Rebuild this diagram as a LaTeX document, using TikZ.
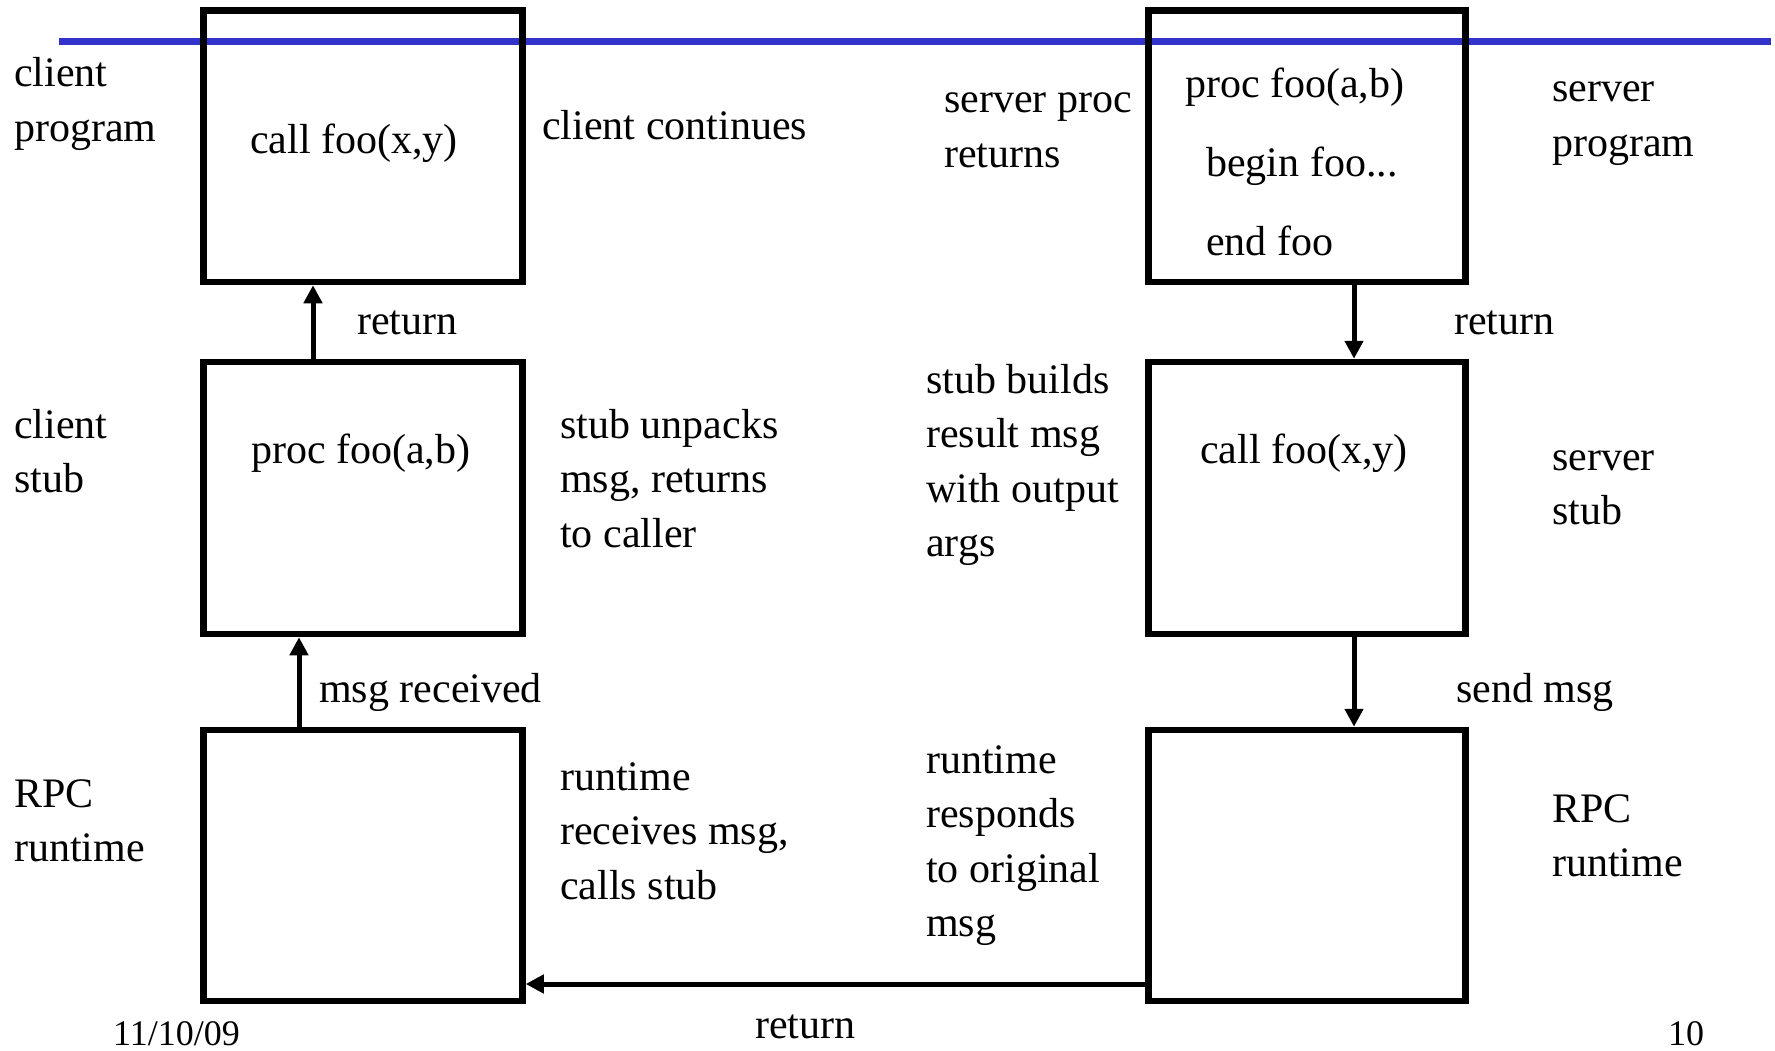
\documentclass[tikz,border=0pt]{standalone}
\usepackage{fontspec}
\setmainfont{Liberation Serif}
\usetikzlibrary{arrows.meta}
\newcommand\mlines[1]{\begin{tabular}[t]{@{}l@{}}#1\end{tabular}}
\begin{document}
\begin{tikzpicture}[x=1pt,y=-1pt,
  bx/.style={draw, line width=6.5pt, rectangle, inner sep=0pt},
  arr/.style={line width=5pt, -{Triangle[length=18pt,width=18pt]}},
  txt/.style={anchor=base west, inner sep=0pt, font=\fontsize{42}{54.5}\selectfont},
  foot/.style={anchor=base west, inner sep=0pt, font=\fontsize{36}{40}\selectfont}]
\useasboundingbox (0,0) rectangle (1775,1051);
% blue rule
\coordinate (bl) at (59,42);
\coordinate (br) at (1771,42);
\draw[line width=7pt, color={rgb,255:red,51;green,51;blue,204}] (bl) -- (br);
% boxes
\node[bx, minimum width=319pt, minimum height=271.5pt] (lb1) at (363,146.25) {};
\node[bx, minimum width=319pt, minimum height=272pt] (lb2) at (363,498) {};
\node[bx, minimum width=319pt, minimum height=271pt] (lb3) at (363,865.5) {};
\node[bx, minimum width=317pt, minimum height=271.5pt] (rb1) at (1307,146.25) {};
\node[bx, minimum width=317pt, minimum height=272pt] (rb2) at (1307,498) {};
\node[bx, minimum width=317pt, minimum height=271pt] (rb3) at (1307,865.5) {};
% arrows
\coordinate (xa) at (313,0);
\coordinate (xb) at (299,0);
\coordinate (xc) at (1354,0);
\coordinate (yb) at (0,984);
\draw[arr] (xa |- lb2.north) -- (xa |- lb1.south);
\draw[arr] (xb |- lb3.north) -- (xb |- lb2.south);
\draw[arr] (xc |- rb1.south) -- (xc |- rb2.north);
\draw[arr] (xc |- rb2.south) -- (xc |- rb3.north);
\draw[arr] (rb3.west |- yb) -- (lb3.east |- yb);
% texts
\node[txt] (t1) at (14,87) {\mlines{client\\program}};
\node[txt] (t2) at (250,154) {call foo(x,y)};
\node[txt] (t3) at (542,140) {client continues};
\node[txt] (t4) at (944,113) {\mlines{server proc\\returns}};
\node[txt] (t5) at (1185,98) {proc foo(a,b)};
\node[txt] (t6) at (1206,177) {begin foo...};
\node[txt] (t7) at (1206,255) {end foo};
\node[txt] (t8) at (1552,102) {\mlines{server\\program}};
\node[txt] (t9) at (357,334) {return};
\node[txt] (t10) at (1454,334) {return};
\node[txt] (t11) at (14,438) {\mlines{client\\stub}};
\node[txt] (t12) at (251,463) {proc foo(a,b)};
\node[txt] (t13) at (560,438) {\mlines{stub unpacks\\msg, returns\\to caller}};
\node[txt] (t14) at (926,393) {\mlines{stub builds\\result msg\\with output\\args}};
\node[txt] (t15) at (1200,463) {call foo(x,y)};
\node[txt] (t16) at (1552,470) {\mlines{server\\stub}};
\node[txt] (t17) at (319,702) {msg received};
\node[txt] (t18) at (1456,702) {send msg};
\node[txt] (t19) at (14,807) {\mlines{RPC\\runtime}};
\node[txt] (t20) at (560,790) {\mlines{runtime\\receives msg,\\calls stub}};
\node[txt] (t21) at (926,773) {\mlines{runtime\\responds\\to original\\msg}};
\node[txt] (t22) at (1552,822) {\mlines{RPC\\runtime}};
\node[txt] (t23) at (755,1038) {return};
\node[foot] (t24) at (113,1045) {11/10/09};
\node[foot] (t25) at (1668,1045) {10};
\end{tikzpicture}
\end{document}
